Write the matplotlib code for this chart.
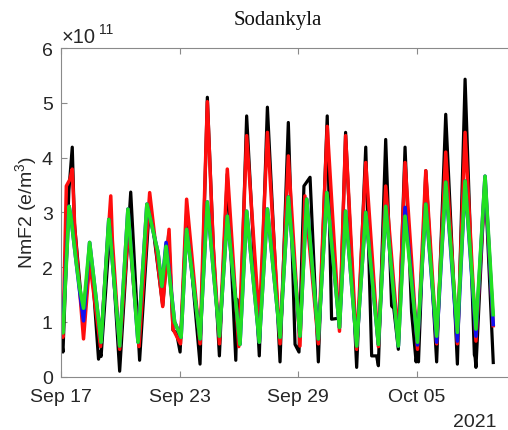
import datetime as dt
import matplotlib
matplotlib.use("Agg")
import matplotlib.pyplot as plt
import matplotlib.dates as mdates

plt.rcParams['font.family'] = ['Liberation Sans', 'DejaVu Sans']
plt.rcParams['mathtext.fontset'] = 'custom'
plt.rcParams['mathtext.rm'] = 'Liberation Sans'
plt.rcParams['mathtext.it'] = 'Liberation Sans:italic'

# ---- data (days since 2021-09-17 00:00, NmF2 in 1e11 e/m^3) ----
start_date = dt.datetime(2021, 9, 17)
tick_labels_dates = [dt.datetime(2021, 9, 17), dt.datetime(2021, 9, 23),
                     dt.datetime(2021, 9, 29), dt.datetime(2021, 10, 5)]
y_ticks = [0, 1, 2, 3, 4, 5, 6]

black_t = [0.0, 0.1, 0.4, 0.57, 0.68, 1.14, 1.47, 1.6, 1.9, 1.97, 2.03, 2.5, 2.97,
           3.53, 3.98, 4.49, 5.15, 5.45, 5.67, 5.85, 6.03, 6.36, 7.04, 7.41, 7.71,
           8.02, 8.42, 8.85, 8.92, 9.05, 9.4, 10.04, 10.45, 11.09, 11.51, 11.85,
           12.05, 12.3, 12.61, 13.03, 13.48, 13.7, 14.13, 14.41, 14.97, 15.43,
           15.73, 15.98, 16.07, 16.44, 16.74, 16.85, 17.08, 17.42, 17.75, 17.98,
           18.05, 18.1, 18.47, 19.02, 19.48, 20.07, 20.46, 20.93, 20.97, 21.01,
           21.47, 21.89]
black_v = [0.75, 0.45, 3.4, 4.19, 2.8, 0.95, 2.18, 1.85, 0.32, 0.45, 0.37, 2.8, 0.1,
           3.37, 0.3, 3.2, 1.3, 2.6, 0.85, 0.8, 0.45, 3.0, 0.23, 5.1, 2.38,
           0.38, 3.7, 0.3, 1.41, 0.6, 4.76, 0.38, 4.92, 0.27, 4.64, 0.59,
           0.45, 3.48, 3.64, 0.27, 4.76, 1.05, 1.07, 4.46, 0.17, 4.19,
           0.38, 0.38, 0.2, 4.33, 1.29, 1.25, 0.5, 4.19, 1.18, 0.27,
           0.5, 0.27, 3.76, 0.27, 4.79, 0.23, 5.43, 0.4, 0.35, 0.17,
           3.6, 0.23]

red_t = [0.0, 0.1, 0.27, 0.45, 0.57, 0.7, 1.14, 1.45, 2.0, 2.52, 2.6, 2.97, 3.42,
         3.95, 4.49, 5.15, 5.47, 5.67, 6.05, 6.36, 7.04, 7.41, 7.71, 8.02, 8.42,
         9.0, 9.4, 10.04, 10.45, 11.09, 11.51, 12.1, 12.35, 13.03, 13.48, 14.1,
         14.41, 14.97, 15.43, 16.07, 16.44, 17.08, 17.42, 18.05, 18.47, 19.02,
         19.48, 20.07, 20.46, 21.01, 21.47, 21.89]
red_v = [0.82, 0.72, 3.48, 3.6, 3.79, 2.69, 0.69, 2.1, 0.55, 3.3, 2.5, 0.5, 2.75,
         0.55, 3.36, 1.28, 2.69, 0.87, 0.6, 3.24, 0.6, 5.02, 2.38, 0.6, 3.79,
         0.55, 4.4, 1.0, 4.46, 0.6, 4.03, 0.56, 3.3, 0.6, 4.57, 0.83,
         4.4, 0.5, 3.91, 0.55, 3.48, 0.7, 3.91, 0.5, 3.76, 0.6,
         4.1, 0.6, 4.46, 0.65, 3.6, 0.9]

green_t = [0.0, 0.1, 0.41, 0.52, 0.77, 0.93, 1.14, 1.45, 2.03, 2.42, 2.97, 3.39,
           3.9, 4.35, 4.91, 5.11, 5.32, 5.75, 6.08, 6.36, 7.04, 7.41, 7.71, 8.02,
           8.42, 9.06, 9.4, 10.04, 10.45, 11.09, 11.51, 12.1, 12.44, 13.03, 13.46,
           14.1, 14.41, 14.97, 15.43, 16.07, 16.44, 17.08, 17.42, 18.05, 18.47,
           19.02, 19.48, 20.07, 20.46, 21.01, 21.47, 21.89]
green_v = [0.87, 0.8, 3.11, 2.87, 2.09, 1.65, 1.25, 2.45, 0.63, 2.87, 0.56, 3.06,
           0.63, 3.15, 2.27, 1.65, 2.38, 1.0, 0.72, 2.69, 0.69, 3.19, 1.96, 0.74,
           2.93, 0.59, 3.02, 0.63, 3.06, 0.72, 3.28, 0.74, 3.24, 0.69, 3.36,
           0.9, 3.02, 0.56, 3.0, 0.59, 3.11, 0.56, 2.93, 0.63, 3.15,
           0.74, 3.55, 0.81, 3.57, 0.87, 3.66, 1.1]

blue_t = green_t
blue_v = [1.05, 0.95, 3.11, 2.87, 2.09, 1.6, 1.02, 2.45, 0.63, 2.87, 0.56, 3.06,
          0.63, 3.15, 2.27, 1.65, 2.45, 1.0, 0.72, 2.69, 0.69, 3.19, 1.96, 0.74,
          2.93, 0.59, 3.02, 0.63, 3.06, 0.72, 3.28, 0.74, 3.24, 0.69, 3.36,
          0.9, 3.02, 0.56, 3.0, 0.59, 3.11, 0.56, 3.09, 0.58, 3.15,
          0.63, 3.55, 0.65, 3.57, 0.74, 3.66, 0.92]

assert len(black_t) == len(black_v)
assert len(red_t) == len(red_v)
assert len(green_t) == len(green_v)
assert len(blue_t) == len(blue_v)

series = [
    (black_t, black_v, '#000000', 2.3),
    (red_t, red_v, '#ff0d0d', 2.5),
    (blue_t, blue_v, '#1010f0', 2.6),
    (green_t, green_v, '#22e022', 2.6),
]

W, H = 508, 431
fig = plt.figure(figsize=(W / 100, H / 100), dpi=100)
ax_left, ax_right, ax_top, ax_bottom = 61, 508, 49, 377.7
ax = fig.add_axes([ax_left / W, 1 - ax_bottom / H,
                   (ax_right - ax_left) / W, (ax_bottom - ax_top) / H])

base = mdates.date2num(start_date)
for t, v, c, lw in series:
    ax.plot([base + x for x in t], v, color=c, lw=lw,
            solid_joinstyle='round', solid_capstyle='butt')

ax.set_xlim(base, base + (ax_right - ax_left) / 19.75)
ax.set_ylim(0, 6)
ax.set_yticks(y_ticks)
ax.set_xticks([mdates.date2num(d) for d in tick_labels_dates])
ax.xaxis.set_major_formatter(mdates.DateFormatter('%b %d'))

spine_c = '#8a8a8a'
for s in ['left', 'top', 'bottom']:
    ax.spines[s].set_color(spine_c)
    ax.spines[s].set_linewidth(0.8)
ax.spines['right'].set_visible(False)
ax.tick_params(direction='in', length=4, width=0.8, color=spine_c,
               labelsize=14, labelcolor='#262626', top=True, right=False)
ax.tick_params(axis='x', pad=8)
ax.tick_params(axis='y', pad=6)

fig.text(277.5 / W, 1 - 25 / H, 'Sodankyla', ha='center', va='baseline',
         fontsize=15, family=['Liberation Serif', 'DejaVu Serif'], color='#111111')
fig.text(26 / W, 1 - 212 / H, 'NmF2 (e/m$^3$)', rotation=90, ha='center',
         va='center', fontsize=14, color='#262626')
fig.text(62 / W, 1 - 43 / H, '\u00d710', ha='left', va='baseline',
         fontsize=14.5, color='#262626')
fig.text(99 / W, 1 - 34 / H, '11', ha='left', va='baseline',
         fontsize=10, color='#262626')
fig.text(496 / W, 1 - 423 / H, '2021', ha='right', va='center',
         fontsize=14, color='#262626')

fig.savefig('out.png', dpi=100)
